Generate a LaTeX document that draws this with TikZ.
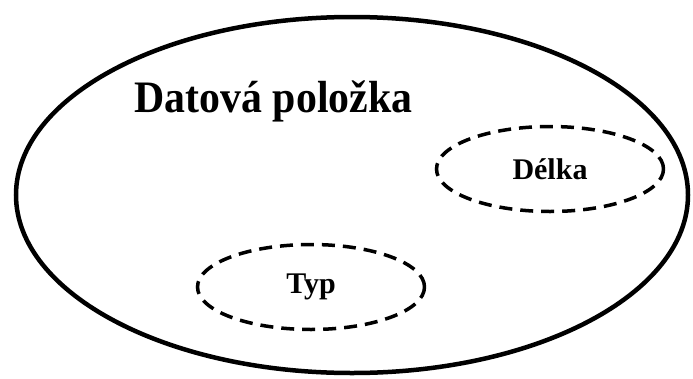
\documentclass[tikz,border=0pt]{standalone}
\usepackage{fontspec}
\setmainfont{Liberation Serif}
\newfontfamily\uzkepismo[FakeStretch=0.93]{Liberation Serif}
\usepackage{tikz}
\usetikzlibrary{shapes, positioning}

\tikzset{
    mnozina/.style={draw, ellipse, inner sep=0pt},
    podmnozina/.style={mnozina, line width=3.5pt, dash pattern=on 13pt off 8pt,
        minimum width=227pt, minimum height=85pt, font=\bfseries\fontsize{30}{34}\selectfont}
}

\begin{document}
\begin{tikzpicture}[x=1pt, y=-1pt]
            \useasboundingbox (0,0) rectangle (693,378);
            \node[mnozina, line width=4.5pt, minimum width=672pt, minimum height=356pt] (polozka) at (352,195) {};
            \node[anchor=base west, font=\uzkepismo\bfseries\fontsize{45}{52}\selectfont] (nazev) at (131,112) {Datová položka};
            \node[podmnozina] (delka) at (550,169) {Délka};
            \node[podmnozina] (typ) at (311,287) {Typ};
        \end{tikzpicture}
\end{document}
